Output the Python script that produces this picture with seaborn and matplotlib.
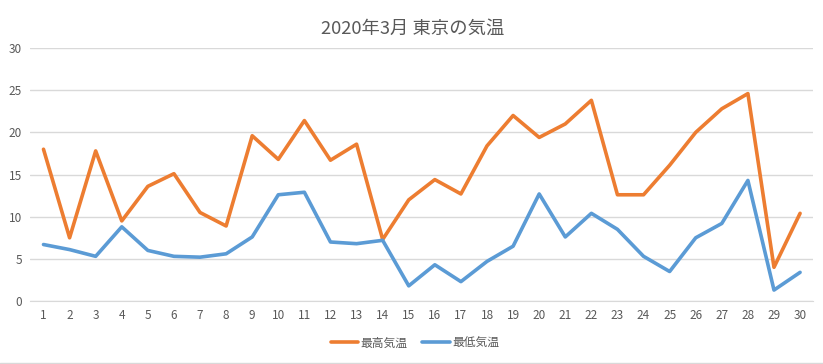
import pandas as pd
import matplotlib.pyplot as plt
import seaborn as sns
from matplotlib.lines import Line2D

# データ（2020年3月 東京）
days = list(range(1, 31))
high_temp = [18.0, 7.5, 17.8, 9.5, 13.6, 15.1, 10.5, 8.9, 19.6, 16.8,
             21.4, 16.7, 18.6, 7.3, 12.0, 14.4, 12.7, 18.4, 22.0, 19.4,
             21.0, 23.8, 12.6, 12.6, 16.1, 20.0, 22.8, 24.6, 4.0, 10.4]
low_temp = [6.7, 6.1, 5.3, 8.8, 6.0, 5.3, 5.2, 5.6, 7.6, 12.6,
            12.9, 7.0, 6.8, 7.2, 1.8, 4.3, 2.3, 4.7, 6.5, 12.7,
            7.6, 10.4, 8.5, 5.3, 3.5, 7.5, 9.2, 14.3, 1.3, 3.4]
series_names = ['最高気温', '最低気温']
colors = ['#ED7D31', '#5B9BD5']

df = pd.DataFrame({'日': days, series_names[0]: high_temp, series_names[1]: low_temp})
df_long = df.melt(id_vars='日', var_name='系列', value_name='気温')

sns.set_style('white')
plt.rcParams['font.family'] = ['Noto Sans CJK JP', 'DejaVu Sans']

fig, ax = plt.subplots(figsize=(8.23, 3.64), dpi=100)
fig.subplots_adjust(left=0.037, right=0.988, top=0.868, bottom=0.173)

sns.lineplot(data=df_long, x='日', y='気温', hue='系列', palette=colors,
             linewidth=2.6, ax=ax, legend=False)

ax.set_xlim(0.5, 30.5)
ax.set_ylim(0, 30)
ax.set_xticks(days)
ax.set_yticks(range(0, 31, 5))
ax.yaxis.grid(True, color='#D9D9D9', linewidth=1)
ax.set_axisbelow(True)
for s in ['top', 'right', 'left']:
    ax.spines[s].set_visible(False)
ax.spines['bottom'].set_color('#D9D9D9')
ax.tick_params(axis='both', length=0, labelsize=8.5, colors='#595959', pad=6)
ax.set_xlabel('')
ax.set_ylabel('')
fig.suptitle('2020年3月 東京の気温', x=0.502, y=0.945, fontsize=13.2,
             color='#595959')

handles = [Line2D([], [], color=c, linewidth=2.6) for c in colors]
fig.legend(handles, series_names, loc='center', bbox_to_anchor=(0.504, 0.058),
           ncol=2, frameon=False, fontsize=8.5, labelcolor='#595959',
           handlelength=2.3, handletextpad=0.2, columnspacing=1.3)

fig.add_artist(Line2D([0, 1], [0.004, 0.004], color='#D9D9D9', linewidth=1,
                      transform=fig.transFigure))

plt.savefig('out.png', dpi=100)
